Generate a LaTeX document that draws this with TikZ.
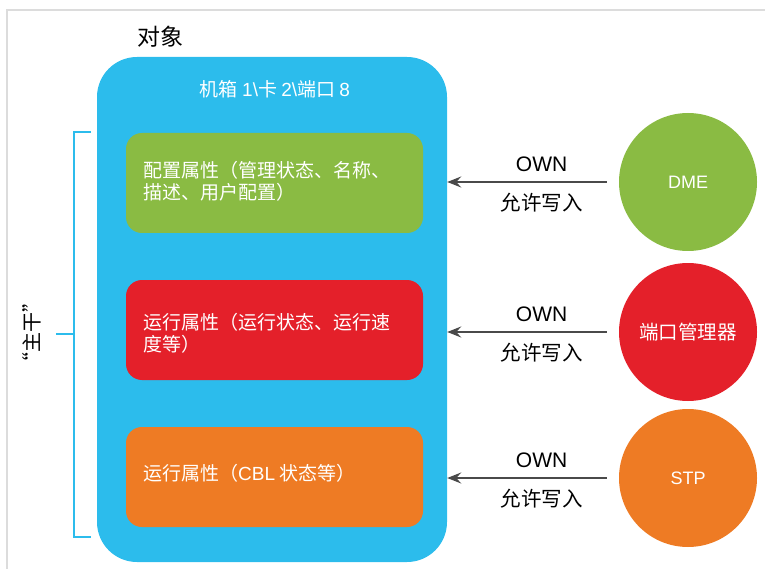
\documentclass[tikz,border=0pt]{standalone}
\usepackage{fontspec}
\setmainfont{Noto Sans CJK SC}
\newfontfamily\latinfont{Liberation Sans}
\usetikzlibrary{arrows.meta}
\definecolor{objblue}{HTML}{2CBCEC}
\definecolor{cfggreen}{HTML}{8ABB43}
\definecolor{runred}{HTML}{E4202A}
\definecolor{runorange}{HTML}{EE7B24}
\definecolor{arrowgray}{HTML}{4A4A4A}
\definecolor{framegray}{HTML}{DCDCDC}
\tikzset{
  objbox/.style={fill=objblue, draw=none, rounded corners=40pt, minimum width=350pt, minimum height=505pt},
  attrbox/.style={draw=none, rounded corners=16pt, minimum width=297pt, minimum height=100pt},
  attrtext/.style={anchor=west, text=white, align=left, inner sep=0pt, font=\fontsize{19pt}{22pt}\selectfont},
  owner/.style={circle, draw=none, minimum size=138pt, inner sep=0pt, text=white, font=\fontsize{19.5pt}{22pt}\selectfont},
  ownarrow/.style={draw=arrowgray, line width=2.5pt, -{Stealth[length=14pt,width=11pt,inset=5pt]}, shorten <=12pt},
  lbl/.style={text=black, inner sep=0pt, font=\fontsize{20.5pt}{22pt}\selectfont},
  brace/.style={draw=objblue, line width=2.5pt}
}
\begin{document}
\begin{tikzpicture}[x=1pt,y=-1pt]
\useasboundingbox (0,0) rectangle (765,569);
\draw[framegray, line width=1.5pt] (7,569) -- (7,10) -- (765,10);

\node[inner sep=0pt, font=\fontsize{23pt}{26pt}\selectfont] (title) at (160,37) {对象};

\node[objbox] (obj) at (272,309.5) {};
\node[text=white, inner sep=0pt, font=\fontsize{19pt}{22pt}\selectfont] (path) at (275,89) {机箱 {\latinfont 1\textbackslash}卡 {\latinfont 2\textbackslash}端口 {\latinfont 8}};

\node[attrbox, fill=cfggreen] (cfg) at (274.5,183) {};
\node[attrtext] (cfgt) at (143,181) {配置属性（管理状态、名称、\\描述、用户配置）};

\node[attrbox, fill=runred] (run) at (274.5,330) {};
\node[attrtext] (runt) at (143,333) {运行属性（运行状态、运行速\\度等）};

\node[attrbox, fill=runorange] (cbl) at (274.5,477) {};
\node[attrtext] (cblt) at (143,473) {运行属性（{\latinfont CBL} 状态等）};

\node[owner, fill=cfggreen, font=\fontsize{18pt}{22pt}\latinfont] (dme) at (688,182) {DME};
\node[owner, fill=runred] (pm) at (688,332) {端口管理器};
\node[owner, fill=runorange, font=\fontsize{18pt}{22pt}\latinfont] (stp) at (688,478) {STP};

\foreach \src in {dme, pm, stp}{
  \draw[ownarrow] (\src) -- (\src -| obj.east)
    node[lbl, pos=0.45, yshift=18pt, font=\fontsize{21pt}{22pt}\latinfont] {OWN}
    node[lbl, pos=0.45, yshift=-21pt] {允许写入};
}

\coordinate (bt) at (74,132);
\coordinate (bb) at (74,537);
\coordinate (bm) at (74,334);
\draw[brace] ([xshift=17pt]bt) -- (bt) -- (bb) -- ([xshift=17pt]bb);
\draw[brace] (bm) -- ([xshift=-18pt]bm);
\node[rotate=90, inner sep=0pt, font=\fontsize{20pt}{22pt}\selectfont] (trunk) at (32,332) {“主干”};
\end{tikzpicture}
\end{document}
